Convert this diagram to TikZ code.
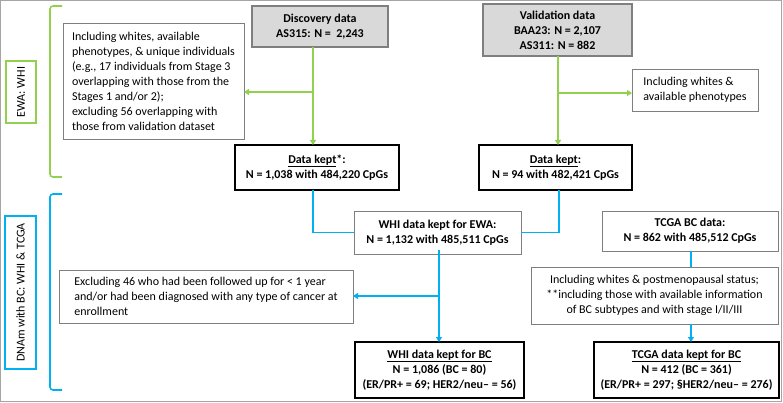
\documentclass[tikz,border=0pt]{standalone}
\usepackage{fontspec}
\setmainfont{Carlito}
\usetikzlibrary{arrows.meta}

\definecolor{ewagreen}{HTML}{92D050}
\definecolor{bcblue}{HTML}{00B0F0}
\definecolor{boxgray}{HTML}{D9D9D9}
\definecolor{edgegray}{HTML}{7F7F7F}

\newcommand{\boxfont}{\fontsize{12}{15}\selectfont}

\begin{document}
\begin{tikzpicture}[x=1pt,y=-1pt,
        every node/.style={inner sep=0pt, outer sep=0pt},
        databox/.style={draw=edgegray, fill=boxgray, line width=1.2pt, align=center, font=\boxfont\bfseries},
        notebox/.style={draw=edgegray, line width=0.8pt, align=left, font=\boxfont},
        midbox/.style={draw=edgegray, line width=0.8pt, align=center, font=\boxfont\bfseries},
        keptbox/.style={draw=black, line width=2pt, align=center, font=\boxfont\bfseries},
        sidebox/.style={line width=1.2pt, rotate=90, font=\boxfont},
        greenline/.style={draw=ewagreen, line width=1.6pt},
        blueline/.style={draw=bcblue, line width=1.6pt},
        tip/.style={-{Triangle[length=5pt,width=6pt]}}]
    \useasboundingbox (0,0) rectangle (783,403);
    \draw[edgegray!70, line width=0.8pt] (0.5,0.5) rectangle (781.5,401.5);

    % upper part: EWA in WHI
    \node[databox, minimum width=136, minimum height=41] (disc) at (320,26.5)
        {Discovery data\\AS315: N =\ \ 2,243};
    \node[databox, minimum width=149, minimum height=52] (valid) at (557.5,30)
        {Validation data\\BAA23: N = 2,107\\AS311: N = 882};
    \node[notebox, minimum width=181, minimum height=116] (incl1) at (153.5,81)
        {Including whites, available\\phenotypes, \& unique individuals\\(e.g., 17 individuals from Stage 3\\overlapping with those from the\\Stages 1 and/or 2);\\excluding 56 overlapping with\\those from validation dataset};
    \node[notebox, minimum width=126, minimum height=42] (incl2) at (695,90)
        {Including whites \&\\available phenotypes};
    \node[keptbox, minimum width=164, minimum height=45] (kept1) at (317,167.5)
        {\underline{Data kept}*:\\N = 1,038 with 484,220 CpGs};
    \node[keptbox, minimum width=153, minimum height=45] (kept2) at (555.5,167.5)
        {\underline{Data kept}:\\N = 94 with 482,421 CpGs};

    % lower part: DNAm with BC
    \node[midbox, minimum width=167, minimum height=43] (whiewa) at (437.5,232.5)
        {WHI data kept for EWA:\\N = 1,132 with 485,511 CpGs};
    \node[midbox, minimum width=176, minimum height=40] (tcga) at (690,231)
        {TCGA BC data:\\N = 862 with 485,512 CpGs};
    \node[notebox, minimum width=294, minimum height=53] (excl) at (206,296.5)
        {Excluding 46 who had been followed up for < 1 year\\and/or had been diagnosed with any type of cancer at\\enrollment};
    \node[notebox, align=center, minimum width=247, minimum height=57] (incl3) at (654.5,295.5)
        {Including whites \& postmenopausal status;\\**including those with available information\\of BC subtypes and with stage I/II/III};
    \node[keptbox, minimum width=169, minimum height=56] (whibc) at (439.5,370)
        {\underline{WHI data kept for BC}\\N = 1,086 (BC = 80)\\(ER/PR+ = 69; HER2/neu– = 56)};
    \node[keptbox, minimum width=185, minimum height=56] (tcgabc) at (686.5,370)
        {\underline{TCGA data kept for BC}\\N = 412 (BC = 361)\\(ER/PR+ = 297; §HER2/neu– = 276)};

    % side labels and braces
    \node[sidebox, draw=ewagreen, minimum width=62, minimum height=30] (ewa) at (21,92) {EWA: WHI};
    \node[sidebox, draw=bcblue, minimum width=153, minimum height=31] (dnam) at (20.5,292.5) {DNAm with BC: WHI \& TCGA};
    \draw[greenline, rounded corners=3pt] (62,6) -- (50,6) -- (50,177) -- (62,177);
    \draw[greenline] ([xshift=4]ewa.east) -- ++(10,0);
    \draw[blueline, rounded corners=3pt] (62,194) -- (50,194) -- (50,390) -- (62,390);
    \draw[blueline] ([xshift=4]dnam.east) -- ++(10,0);

    % green connectors
    \coordinate (g1) at (313,92);
    \coordinate (g2) at (558,93);
    \draw[greenline, tip] (disc.south -| g1) -- (kept1.north -| g1);
    \draw[greenline, tip] (g1) -- (g1 -| incl1.east);
    \draw[greenline, tip] (valid.south -| g2) -- (kept2.north -| g2);
    \draw[greenline, tip] (g2) -- (g2 -| incl2.west);

    % blue connectors
    \coordinate (c1) at (313,233);
    \coordinate (c2) at (559,233);
    \coordinate (c3) at (439,296);
    \coordinate (c4) at (691,296);
    \draw[blueline] (kept1.south -| c1) |- (whiewa.west);
    \draw[blueline] (kept2.south -| c2) |- (whiewa.east);
    \draw[blueline, tip] ([yshift=4]whiewa.south -| c3) -- (whibc.north -| c3);
    \draw[blueline, tip] (c3) -- (excl.east |- c3);
    \draw[blueline] (tcga.south -| c4) -- (incl3.north -| c4);
    \draw[blueline, tip] (incl3.south -| c4) -- (tcgabc.north -| c4);
\end{tikzpicture}
\end{document}
